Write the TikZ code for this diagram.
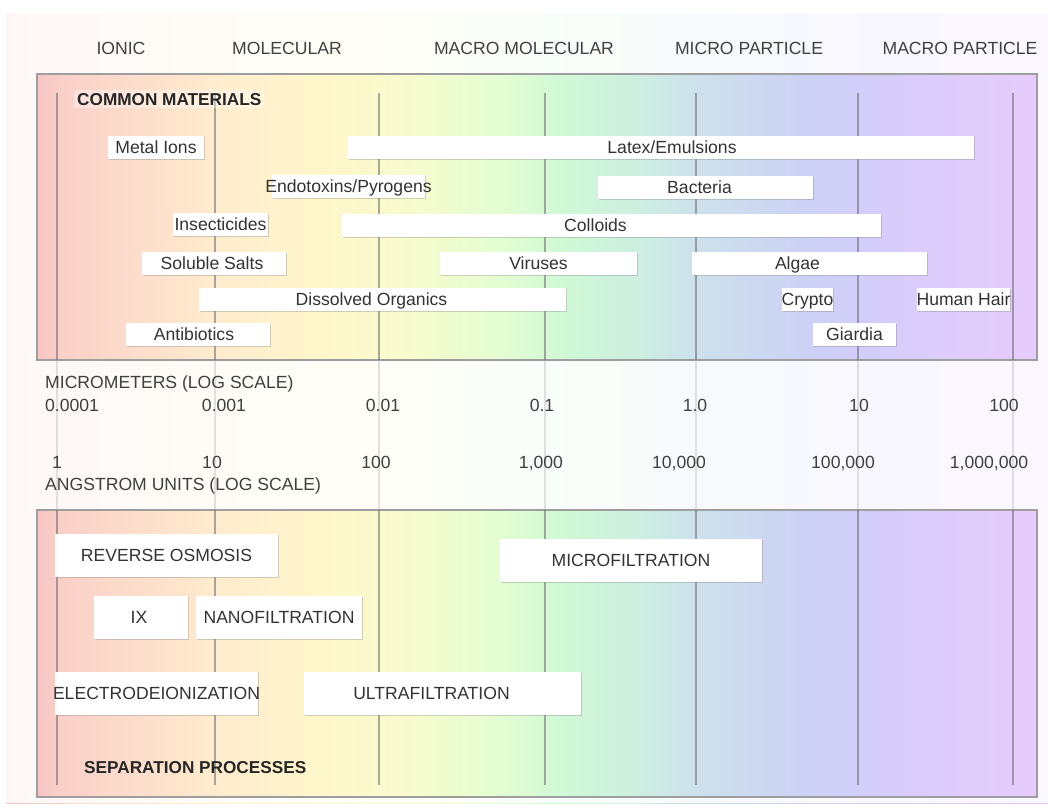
\documentclass[tikz,border=0pt]{standalone}
\usepackage{fontspec}
\setmainfont{Liberation Sans}
\usetikzlibrary{shadows}

% spectrum colours, left to right
\definecolor{spA}{RGB}{247,196,196}
\definecolor{spB}{RGB}{250,208,200}
\definecolor{spC}{RGB}{253,222,204}
\definecolor{spD}{RGB}{255,236,206}
\definecolor{spE}{RGB}{255,247,204}
\definecolor{spF}{RGB}{245,252,205}
\definecolor{spG}{RGB}{228,253,210}
\definecolor{spH}{RGB}{208,249,214}
\definecolor{spI}{RGB}{205,238,225}
\definecolor{spJ}{RGB}{205,224,236}
\definecolor{spK}{RGB}{205,210,245}
\definecolor{spL}{RGB}{210,205,250}
\definecolor{spM}{RGB}{222,205,252}
\definecolor{spN}{RGB}{230,204,252}

\pgfdeclarehorizontalshading{spectrum}{100bp}{%
  color(0bp)=(spA); color(25bp)=(spA); color(26.2bp)=(spB);
  color(30.2bp)=(spC); color(34bp)=(spD); color(39.2bp)=(spE);
  color(44.2bp)=(spF); color(48.2bp)=(spG); color(51.2bp)=(spH);
  color(55.2bp)=(spI); color(58.2bp)=(spJ); color(63.2bp)=(spK);
  color(66.2bp)=(spL); color(70.7bp)=(spM); color(75bp)=(spN);
  color(100bp)=(spN)}

\tikzset{
  panel/.style={draw=black!38, line width=1.3pt, shading=spectrum},
  grid line/.style={black!60, line width=1.6pt, opacity=0.55},
  faint line/.style={black!25, line width=1.4pt, opacity=0.45},
  barbox/.style={fill=white, inner sep=0pt, minimum height=23pt,
    drop shadow={shadow xshift=1.2pt, shadow yshift=-1.6pt, opacity=0.35}},
  procbox/.style={barbox, minimum height=43pt},
  bartxt/.style={text=black!80, inner sep=0pt, text height=12.6pt,
    text depth=0pt, font=\fontsize{17.6}{20}\selectfont},
  scaletxt/.style={text=black!75, inner sep=0pt, text height=12.6pt,
    text depth=0pt, font=\fontsize{17.6}{20}\selectfont},
  heading/.style={text=black!85, inner sep=0pt, text height=12.4pt,
    text depth=0pt, font=\fontsize{17.2}{20}\selectfont\bfseries},
}

% box from x1 to x2 at height y, text shifted by dx
\newcommand\matbar[6]{%
  \node[barbox, minimum width={(#3-#2)*1pt}] (#1) at ({(#2+#3)/2},#4) {};
  \node[bartxt] (#1-t) at ([xshift=#5pt]#1.center) {#6};}
\newcommand\procbar[6]{%
  \node[procbox, minimum width={(#3-#2)*1pt}] (#1) at ({(#2+#3)/2},#4) {};
  \node[bartxt] (#1-t) at ([xshift=#5pt]#1.center) {#6};}

\begin{document}
\begin{tikzpicture}[x=1pt, y=-1pt]
  \useasboundingbox (0,0) rectangle (1048,803);
  % pale background
  \shade[shading=spectrum] (6,13) rectangle (1048,803);
  \fill[white, opacity=0.86] (6,13) rectangle (1048,803);
  % panels
  \draw[panel] (37,74) rectangle (1037,360);
  \draw[panel] (37,510) rectangle (1037,797);
  \foreach \x in {57,215,379,545,696,858,1013} {
    \draw[grid line] (\x,93) -- (\x,360);
    \draw[faint line] (\x,361) -- (\x,509);
    \draw[grid line] (\x,510) -- (\x,785);
  }

  % size classes
  \node[scaletxt] (ionic) at (121,48) {IONIC};
  \node[scaletxt] (molecular) at (287,48) {MOLECULAR};
  \node[scaletxt] (macromol) at (524,48) {MACRO MOLECULAR};
  \node[scaletxt] (micropart) at (749,48) {MICRO PARTICLE};
  \node[scaletxt] (macropart) at (960,48) {MACRO PARTICLE};

  % common materials
  \node[heading, anchor=west, fill=white, fill opacity=0.35, text opacity=1,
    inner sep=3pt] (common) at (74,99) {COMMON MATERIALS};
  \matbar{metal}{108}{204}{147}{0}{Metal Ions}
  \matbar{latex}{348}{974}{147}{11}{Latex/Emulsions}
  \matbar{endo}{272}{425}{186}{0}{Endotoxins/Pyrogens}
  \matbar{bacteria}{598}{813}{187}{-6}{Bacteria}
  \matbar{insect}{173}{268}{224}{0}{Insecticides}
  \matbar{colloids}{342}{881}{225}{-16}{Colloids}
  \matbar{salts}{142}{286}{263}{-2}{Soluble Salts}
  \matbar{viruses}{440}{637}{263}{0}{Viruses}
  \matbar{algae}{692}{927}{263}{-12}{Algae}
  \matbar{organics}{199}{566}{299}{-11}{Dissolved Organics}
  \matbar{crypto}{782}{833}{299}{0}{Crypto}
  \matbar{hair}{917}{1010}{299}{0}{Human Hair}
  \matbar{antibio}{126}{270}{334}{-4}{Antibiotics}
  \matbar{giardia}{813}{896}{334}{0}{Giardia}

  % scales
  \node[scaletxt, anchor=west] (microm) at (45,382) {MICROMETERS (LOG SCALE)};
  \node[scaletxt, anchor=west] (m1) at (45,405) {0.0001};
  \node[scaletxt] (m2) at (224,405) {0.001};
  \node[scaletxt] (m3) at (383,405) {0.01};
  \node[scaletxt] (m4) at (542,405) {0.1};
  \node[scaletxt] (m5) at (695,405) {1.0};
  \node[scaletxt] (m6) at (859,405) {10};
  \node[scaletxt] (m7) at (1004,405) {100};
  \node[scaletxt] (a1) at (57,462) {1};
  \node[scaletxt] (a2) at (212,462) {10};
  \node[scaletxt] (a3) at (376,462) {100};
  \node[scaletxt] (a4) at (541,462) {1,000};
  \node[scaletxt] (a5) at (679,462) {10,000};
  \node[scaletxt] (a6) at (843,462) {100,000};
  \node[scaletxt] (a7) at (989,462) {1,000,000};
  \node[scaletxt, anchor=west] (angstrom) at (45,484) {ANGSTROM UNITS (LOG SCALE)};

  % separation processes
  \procbar{ro}{55}{278}{555}{0}{REVERSE OSMOSIS}
  \procbar{mf}{500}{762}{560}{0}{MICROFILTRATION}
  \procbar{ix}{94}{188}{617}{-2}{IX}
  \procbar{nf}{196}{362}{617}{0}{NANOFILTRATION}
  \procbar{edi}{55}{258}{693}{0}{ELECTRODEIONIZATION}
  \procbar{uf}{304}{581}{693}{-11}{ULTRAFILTRATION}
  \node[heading, anchor=west] (sep) at (84,767) {SEPARATION PROCESSES};
\end{tikzpicture}
\end{document}
